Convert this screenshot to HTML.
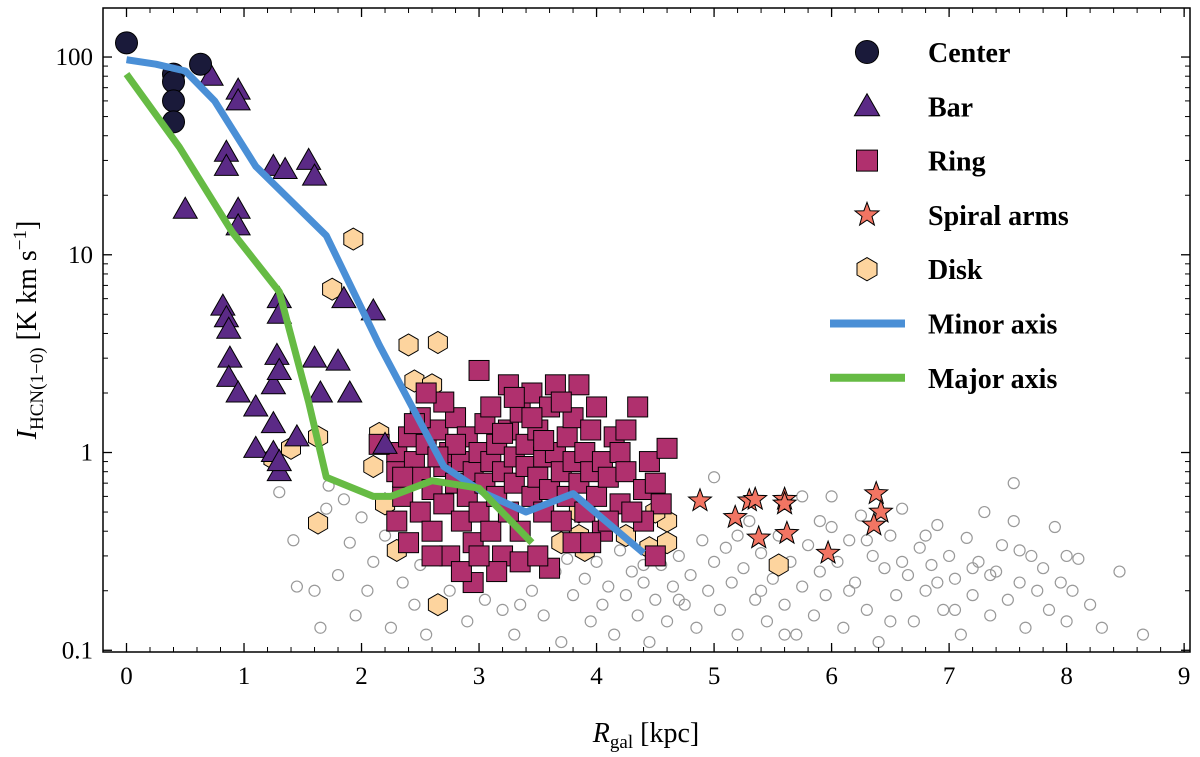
<!DOCTYPE html>
<html><head><meta charset="utf-8">
<style>
html,body{margin:0;padding:0;background:#fff;}
svg{display:block;font-family:"Liberation Serif",serif;}
</style></head>
<body>
<svg id="chart" width="1200" height="757" viewBox="0 0 1200 757" xmlns="http://www.w3.org/2000/svg"></svg>
<script>
const xTicks=[0,1,2,3,4,5,6,7,8,9];
const yTicks=[0.1,1,10,100];
const yTickLabels=["0.1","1","10","100"];
const center=[[0,118],[0.4,82],[0.4,75],[0.4,60],[0.4,47],[0.63,92]];
const bar=[[0.5,17],[0.72,80],[0.95,68],[0.95,60],[0.85,33],[0.85,28],[0.95,17],[0.95,14],[0.82,5.5],[0.85,4.8],[0.87,4.2],[0.88,3],[0.87,2.4],[0.95,2.0],[1.1,1.7],[1.1,1.05],[1.25,1.4],[1.25,2.2],[1.28,3.1],[1.3,2.6],[1.3,0.8],[1.3,6.0],[1.3,5.0],[1.25,28],[1.35,27],[1.55,30],[1.6,25],[1.6,3.0],[1.65,2.0],[1.45,1.2],[1.8,2.9],[1.85,6],[1.9,2.0],[2.1,5.2],[2.2,1.1],[1.25,1.0],[1.3,0.9]];
const ring=[[2.3,1.0],[2.3,0.8],[2.35,0.6],[2.4,1.2],[2.45,0.9],[2.5,0.5],[2.5,0.75],[2.55,1.1],[2.6,0.65],[2.6,0.4],[2.65,1.3],[2.7,0.85],[2.7,0.55],[2.75,1.0],[2.75,0.3],[2.8,0.7],[2.8,1.5],[2.85,0.45],[2.85,0.9],[2.9,0.6],[2.9,1.2],[2.95,0.8],[2.95,0.35],[3.0,1.0],[3.0,0.5],[3.0,2.6],[3.05,0.7],[3.05,1.4],[3.1,0.9],[3.1,0.4],[3.15,0.6],[3.15,1.1],[3.2,0.8],[3.2,0.3],[3.25,1.3],[3.25,0.5],[3.3,0.95],[3.3,0.7],[3.35,1.6],[3.35,0.4],[3.4,0.85],[3.4,1.1],[3.45,0.6],[3.45,2.0],[3.5,0.75],[3.5,1.3],[3.55,0.5],[3.55,0.95],[3.6,1.7],[3.6,0.65],[3.65,2.2],[3.65,1.0],[3.7,0.8],[3.7,0.45],[3.75,1.2],[3.75,0.6],[3.8,0.9],[3.8,1.5],[3.85,0.7],[3.85,2.2],[3.9,1.0],[3.9,0.5],[3.95,0.8],[3.95,1.3],[4.0,0.6],[4.0,1.7],[4.05,0.9],[4.1,0.75],[4.15,1.2],[4.2,0.55],[4.2,1.0],[4.25,0.8],[4.35,1.7],[4.4,0.65],[4.45,0.9],[4.5,0.7],[4.55,0.55],[4.4,0.45],[4.5,0.3],[2.6,0.3],[2.95,0.22],[2.85,0.25],[3.15,0.25],[3.35,0.28],[3.6,0.26],[2.5,1.5],[2.7,1.8],[2.3,0.45],[2.15,1.1],[2.4,0.35],[3.0,0.3],[3.25,2.2],[3.5,0.3],[3.8,0.35],[4.05,0.4],[3.1,1.7],[3.3,1.9],[2.55,2.0],[2.8,1.1],[3.45,1.5],[3.7,1.8],[3.95,0.35],[4.3,0.5],[4.6,1.05],[4.1,0.45],[2.45,1.4],[2.65,0.95],[3.2,1.25],[3.55,1.15],[4.25,1.3],[2.35,0.75]];
const spiral=[[4.88,0.57],[5.18,0.47],[5.3,0.57],[5.35,0.58],[5.38,0.37],[5.6,0.58],[5.62,0.39],[5.6,0.55],[5.97,0.31],[6.38,0.62],[6.42,0.5],[6.36,0.43]];
const disk=[[1.25,0.93],[1.4,1.05],[1.63,1.2],[1.63,0.44],[1.75,6.7],[1.93,12],[2.1,0.85],[2.15,1.25],[2.2,0.55],[2.4,3.5],[2.45,2.3],[2.6,2.2],[2.65,3.6],[2.3,0.32],[2.65,0.17],[2.8,0.95],[3.85,0.38],[3.85,0.5],[3.9,0.32],[3.7,0.35],[4.25,0.38],[4.45,0.33],[4.6,0.45],[4.6,0.35],[4.5,0.5],[5.55,0.27]];
const other=[[1.3,0.63],[1.42,0.36],[1.45,0.21],[1.6,0.2],[1.65,0.13],[1.7,0.52],[1.72,0.68],[1.8,0.24],[1.85,0.58],[1.9,0.35],[1.95,0.15],[2.0,0.47],[2.05,0.2],[2.1,0.28],[2.2,0.38],[2.25,0.13],[2.35,0.22],[2.45,0.17],[2.5,0.27],[2.55,0.12],[2.75,0.2],[2.9,0.14],[3.05,0.18],[3.2,0.16],[3.3,0.12],[3.45,0.2],[3.55,0.15],[3.65,0.25],[3.7,0.11],[3.8,0.19],[3.9,0.23],[3.95,0.14],[4.0,0.28],[4.05,0.17],[4.1,0.21],[4.15,0.12],[4.2,0.32],[4.25,0.19],[4.3,0.25],[4.35,0.15],[4.4,0.22],[4.45,0.11],[4.5,0.18],[4.55,0.27],[4.6,0.14],[4.65,0.21],[4.7,0.3],[4.75,0.17],[4.8,0.24],[4.85,0.13],[4.9,0.36],[4.95,0.2],[5.0,0.28],[5.0,0.75],[5.05,0.16],[5.1,0.33],[5.15,0.22],[5.2,0.12],[5.25,0.26],[5.3,0.45],[5.35,0.18],[5.4,0.31],[5.45,0.14],[5.5,0.23],[5.55,0.38],[5.6,0.17],[5.65,0.28],[5.7,0.12],[5.75,0.21],[5.8,0.34],[5.85,0.15],[5.9,0.25],[5.95,0.19],[6.0,0.6],[6.0,0.42],[6.05,0.28],[6.1,0.13],[6.15,0.36],[6.2,0.22],[6.25,0.48],[6.3,0.16],[6.35,0.3],[6.4,0.11],[6.45,0.26],[6.5,0.38],[6.55,0.19],[6.6,0.52],[6.65,0.24],[6.7,0.14],[6.75,0.33],[6.8,0.2],[6.85,0.27],[6.9,0.43],[6.95,0.16],[7.0,0.3],[7.05,0.23],[7.1,0.12],[7.15,0.37],[7.2,0.19],[7.25,0.28],[7.3,0.5],[7.35,0.15],[7.4,0.25],[7.45,0.34],[7.5,0.18],[7.55,0.7],[7.55,0.45],[7.6,0.22],[7.65,0.13],[7.7,0.3],[7.75,0.2],[7.8,0.26],[7.85,0.16],[7.9,0.42],[7.95,0.22],[8.0,0.14],[8.05,0.2],[8.1,0.29],[8.2,0.17],[8.3,0.13],[8.45,0.25],[8.65,0.12],[5.75,0.6],[6.3,0.36],[6.8,0.38],[7.2,0.26],[5.4,0.2],[4.7,0.18],[3.35,0.17],[3.75,0.29],[6.9,0.22],[7.6,0.32],[5.9,0.45],[6.6,0.28],[7.05,0.16],[5.2,0.38],[4.4,0.27],[6.15,0.2],[7.35,0.24],[8.0,0.3],[5.6,0.12],[6.5,0.14]];
const minorAxis=[[0,97],[0.25,92],[0.5,85],[0.75,60],[1.1,28],[1.7,12.5],[2.15,3.5],[2.7,0.85],[3.05,0.62],[3.4,0.5],[3.8,0.62],[4.4,0.31]];
const majorAxis=[[0,82],[0.45,35],[0.9,13],[1.3,6.5],[1.55,1.8],[1.7,0.75],[2.1,0.6],[2.25,0.6],[2.6,0.72],[3.0,0.66],[3.45,0.35]];

const L=103,R=1190,T=8,B=652,X0=-0.2,X1=9.05,YLO=Math.log10(0.098),YHI=Math.log10(177);
const sx=v=>L+(v-X0)/(X1-X0)*(R-L);
const sy=v=>B-(Math.log10(v)-YLO)/(YHI-YLO)*(B-T);
const svg=document.getElementById('chart');
const NS='http://www.w3.org/2000/svg';
function mk(tag,at,parent){const e=document.createElementNS(NS,tag);for(const k in at)e.setAttribute(k,at[k]);(parent||svg).appendChild(e);return e;}

const plot=mk('g',{});



function marker(kind,cx,cy,g,s){
  let e;
  if(kind==='circle'){e=mk('circle',{cx,cy,r:11*s,fill:'#1a1a3a',stroke:'#000','stroke-width':1},g);}
  else if(kind==='gray'){e=mk('circle',{cx,cy,r:5.5,fill:'none',stroke:'#999','stroke-width':1.2},g);}
  else if(kind==='tri'){const h=12*s;e=mk('polygon',{points:`${cx},${cy-h} ${cx-h},${cy+h*0.75} ${cx+h},${cy+h*0.75}`,fill:'#5b2a86',stroke:'#000','stroke-width':1},g);}
  else if(kind==='sq'){const h=10*s;e=mk('rect',{x:cx-h,y:cy-h,width:2*h,height:2*h,fill:'#b0306e',stroke:'#000','stroke-width':1},g);}
  else if(kind==='star'){let p=[];for(let i=0;i<10;i++){const r=(i%2?5:12)*s,a=-Math.PI/2+i*Math.PI/5;p.push((cx+r*Math.cos(a)).toFixed(1)+','+(cy+r*Math.sin(a)).toFixed(1));}
    e=mk('polygon',{points:p.join(' '),fill:'#f27563',stroke:'#000','stroke-width':1},g);}
  else if(kind==='hex'){let p=[];for(let i=0;i<6;i++){const a=Math.PI/6+i*Math.PI/3;p.push((cx+11*s*Math.cos(a)).toFixed(1)+','+(cy+11*s*Math.sin(a)).toFixed(1));}
    e=mk('polygon',{points:p.join(' '),fill:'#fdd49e',stroke:'#000','stroke-width':1},g);}
  return e;
}
function series(data,kind,name){
  const g=mk('g',{},plot);
  
  
  data.forEach(d=>{const e=marker(kind,sx(d[0]),sy(d[1]),g,1);
    
    });
}
series(other,'gray','other');
series(disk,'hex','disk');
series(ring,'sq','ring');
series(spiral,'star','spiral-arms');
series(bar,'tri','bar');
series(center,'circle','center');
function line(data,color,name){
  const e=mk('polyline',{points:data.map(d=>sx(d[0]).toFixed(1)+','+sy(d[1]).toFixed(1)).join(' '),fill:'none',stroke:color,'stroke-width':7,'stroke-linejoin':'round'},plot);
  
  
}
line(minorAxis,'#4a8fd6','minor-axis-line');
line(majorAxis,'#66bb44','major-axis-line');

// frame & ticks
const ax=mk('g',{});


mk('rect',{x:L,y:T,width:R-L,height:B-T,fill:'none',stroke:'#000','stroke-width':1.5},ax);
xTicks.forEach(v=>{const x=sx(v);
  mk('line',{x1:x,x2:x,y1:B,y2:B-9,stroke:'#000','stroke-width':1.3},ax);
  mk('line',{x1:x,x2:x,y1:T,y2:T+9,stroke:'#000','stroke-width':1.3},ax);
  const t=mk('text',{x:x,y:B+32,'text-anchor':'middle','font-size':25},ax);t.textContent=v;
  
  
});
for(let v=-0.2;v<9.05;v+=0.2){const x=sx(v);
  mk('line',{x1:x,x2:x,y1:B,y2:B-5,stroke:'#000','stroke-width':1},ax);
  mk('line',{x1:x,x2:x,y1:T,y2:T+5,stroke:'#000','stroke-width':1},ax);}
yTicks.forEach((v,i)=>{const y=sy(v);
  mk('line',{x1:L,x2:L+9,y1:y,y2:y,stroke:'#000','stroke-width':1.3},ax);
  mk('line',{x1:R,x2:R-9,y1:y,y2:y,stroke:'#000','stroke-width':1.3},ax);
  const t=mk('text',{x:L-10,y:y+8,'text-anchor':'end','font-size':25},ax);t.textContent=yTickLabels[i];
  
  
});
[0.1,1,10,100].forEach(d=>{for(let k=2;k<10;k++){const v=d*k;if(v>177)continue;const y=sy(v);
  mk('line',{x1:L,x2:L+5,y1:y,y2:y,stroke:'#000','stroke-width':1},ax);
  mk('line',{x1:R,x2:R-5,y1:y,y2:y,stroke:'#000','stroke-width':1},ax);}});

// axis titles
const xt=mk('text',{x:646,y:742,'text-anchor':'middle','font-size':28});
xt.innerHTML='<tspan font-style="italic">R</tspan><tspan font-size="19" dy="6">gal</tspan><tspan dy="-6"> [kpc]</tspan>';


const yt=mk('text',{x:0,y:0,'text-anchor':'middle','font-size':28,transform:'translate(36,330) rotate(-90)'});
yt.innerHTML='<tspan font-style="italic">I</tspan><tspan font-size="19" dy="7">HCN(1−0)</tspan><tspan dy="-7"> [K km s</tspan><tspan font-size="19" dy="-10">−1</tspan><tspan dy="10">]</tspan>';



// legend
const lg=mk('g',{});


const entries=[['circle','Center'],['tri','Bar'],['sq','Ring'],['star','Spiral arms'],['hex','Disk'],['#4a8fd6','Minor axis'],['#66bb44','Major axis']];
entries.forEach((en,i)=>{const y=52+i*54.3;
  const g=mk('g',{},lg);
  
  
  if(en[0][0]==='#') mk('line',{x1:830,x2:905,y1:y,y2:y,stroke:en[0],'stroke-width':8},g);
  else marker(en[0],867,y,g,1.05);
  const t=mk('text',{x:928,y:y+10,'font-size':28,'font-weight':'bold'},g);t.textContent=en[1];
});
</script>
</body></html>
